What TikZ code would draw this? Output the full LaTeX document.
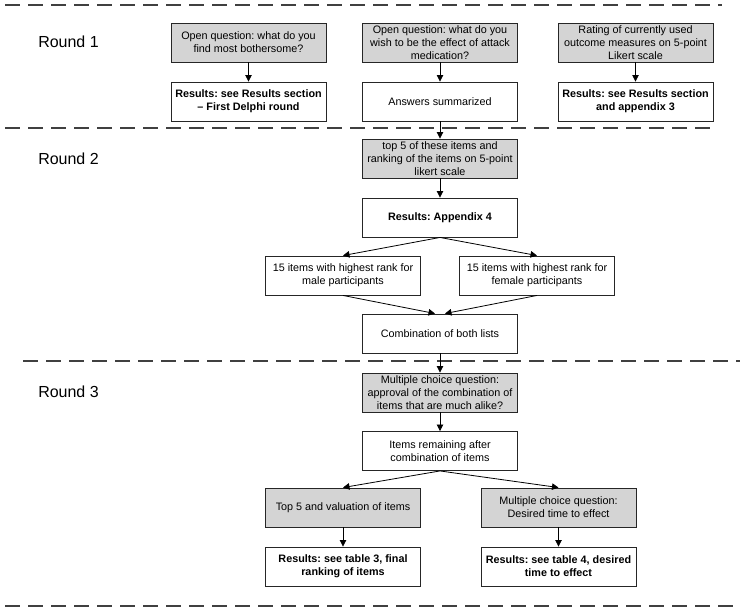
\documentclass[tikz,border=0pt]{standalone}
\usepackage{fontspec}
\setmainfont{Liberation Sans}
\usetikzlibrary{arrows.meta}
\frenchspacing

\definecolor{boxgray}{RGB}{212,212,212}
\tikzset{
  box/.style={rectangle, draw=black!85, line width=0.9pt, minimum width=155pt, minimum height=39pt,
              inner sep=0pt, align=center, font=\fontsize{10.8}{13.2}\selectfont},
  qbox/.style={box, fill=boxgray},
  rbox/.style={box, font=\fontsize{10.8}{13.2}\selectfont\bfseries},
  flow/.style={-{Triangle[length=6.5pt,width=6.5pt]}, line width=0.8pt},
  sep/.style={dash pattern=on 15pt off 8pt, line width=1.3pt, black!75},
  roundlbl/.style={font=\fontsize{16}{19}\selectfont}
}

\begin{document}
\begin{tikzpicture}[x=1pt, y=-1pt]
\useasboundingbox (0,0) rectangle (745,610);

% separators
\draw[sep] (5,5)   -- (722,5);
\draw[sep] (5,128) -- (714,128);
\draw[sep] (23,361) -- (740,361);
\draw[sep] (5,606) -- (735,606);

\node[roundlbl] (R1) at (68.5,42)  {Round 1};
\node[roundlbl] (R2) at (68.5,159) {Round 2};
\node[roundlbl] (R3) at (68.5,392) {Round 3};

% round 1
\node[qbox] (Q1) at (248.5,42.5) {Open question: what do you\\ find most bothersome?};
\node[qbox] (Q2) at (440,42.5)   {Open question: what do you\\ wish to be the effect of attack\\ medication?};
\node[qbox] (Q3) at (635.5,42.5) {Rating of currently used\\ outcome measures on 5-point\\ Likert scale};
\node[rbox] (A1) at (248.5,101.5) {Results: see Results section\\ -- First Delphi round};
\node[box]  (A2) at (440,101.5)   {Answers summarized};
\node[rbox] (A3) at (635.5,101.5) {Results: see Results section\\ and appendix 3};

% round 2
\node[qbox] (T5)   at (440,158.5) {top 5 of these items and\\ ranking of the items on 5-point\\ likert scale};
\node[rbox] (APP4) at (440,217.5) {Results: Appendix 4};
\node[box]  (MALE) at (343,275.5) {15 items with highest rank for\\ male participants};
\node[box]  (FEM)  at (537,275.5) {15 items with highest rank for\\ female participants};
\node[box]  (COMB) at (440,333.5) {Combination of both lists};

% round 3
\node[qbox] (MC)   at (440,392.5)   {Multiple choice question:\\ approval of the combination of\\ items that are much alike?};
\node[box]  (REM)  at (440,451)     {Items remaining after\\ combination of items};
\node[qbox] (VAL)  at (343,507.5)   {Top 5 and valuation of items};
\node[qbox] (TIME) at (558.5,507.5) {Multiple choice question:\\ Desired time to effect};
\node[rbox] (F1)   at (343,566.5)   {Results: see table 3, final\\ ranking of items};
\node[rbox] (F2)   at (558.5,566.5) {Results: see table 4, desired\\ time to effect};

\draw[flow] (Q1) -- (A1);
\draw[flow] (Q2) -- (A2);
\draw[flow] (Q3) -- (A3);
\draw[flow] (A2) -- (T5);
\draw[flow] (T5) -- (APP4);
\draw[flow] (APP4.south) -- (MALE.north);
\draw[flow] (APP4.south) -- (FEM.north);
\draw[flow] (MALE.south) -- ([xshift=-5pt]COMB.north);
\draw[flow] (FEM.south) -- ([xshift=5pt]COMB.north);
\draw[flow] (COMB) -- (MC);
\draw[flow] (MC) -- (REM);
\draw[flow] (REM.south) -- (VAL.north);
\draw[flow] (REM.south) -- (TIME.north);
\draw[flow] (VAL) -- (F1);
\draw[flow] (TIME) -- (F2);
\end{tikzpicture}
\end{document}
